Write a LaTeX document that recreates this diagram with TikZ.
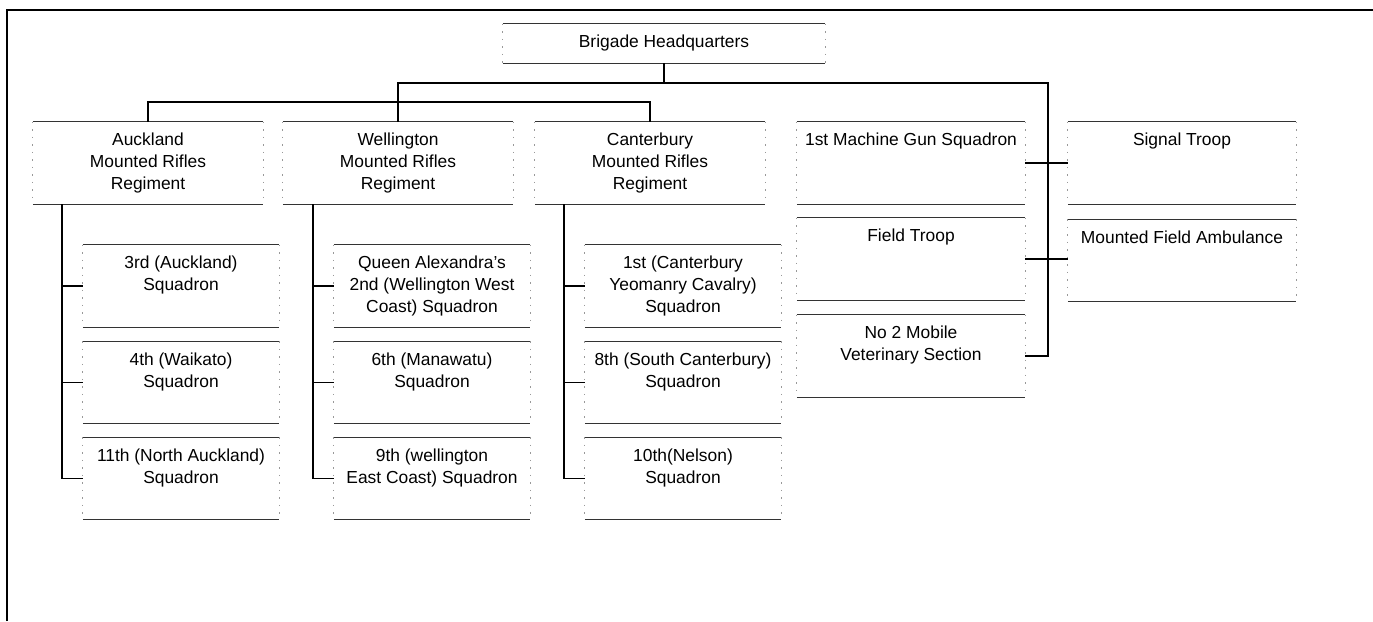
\documentclass[tikz,border=0pt]{standalone}
\usepackage{fontspec}
\setmainfont{Liberation Sans}
\usetikzlibrary{calc}

\begin{document}
\begin{tikzpicture}[
    x=1pt, y=-1pt,
    every node/.style={font=\fontsize{17.4}{22}\selectfont, inner sep=0pt},
    unit/.style={minimum width=230pt, minimum height=82pt, align=center},
    service/.style={minimum width=228pt, minimum height=82pt},
    squad/.style={minimum width=196pt, minimum height=82pt},
    toptext/.style={anchor=north, align=center, yshift=-11pt},
    rule/.style={line width=1.1pt, black!80},
    side/.style={line width=0.8pt, black!40, dash pattern=on 1.5pt off 6pt},
    link/.style={line width=1.7pt, black},
    frame/.style={line width=1.8pt, black}
]
\useasboundingbox (0,0) rectangle (1373,621);
\draw[frame] (7,621) -- (7,10) -- (1373,10);

%====================================================
% HEADQUARTERS AND REGIMENTS
%====================================================
\node[minimum width=322pt, minimum height=39pt] (hq) at (664,43.5) {Brigade Headquarters};
\node[unit] (akl) at (148,163) {Auckland\\Mounted Rifles\\Regiment};
\node[unit] (wlg) at (398,163) {Wellington\\Mounted Rifles\\Regiment};
\node[unit] (cby) at (650,163) {Canterbury\\Mounted Rifles\\Regiment};

%====================================================
% BRIGADE UNITS
%====================================================
\node[service, label={[toptext]north:1st Machine Gun Squadron}] (mg) at (911,163) {};
\node[service, label={[toptext]north:Field Troop}] (ft) at (911,259) {};
\node[service, label={[toptext]north:{No 2 Mobile\\Veterinary Section}}] (vet) at (911,356) {};
\node[service, label={[toptext]north:Signal Troop}] (sig) at (1182,163) {};
\node[service, label={[toptext]north:Mounted Field Ambulance}] (amb) at (1182,260.5) {};

%====================================================
% SQUADRONS
%====================================================
\begin{scope}[shift={(181,0)}]
\node[squad, label={[toptext]north:{3rd (Auckland)\\Squadron}}] (a1) at (0,286) {};
\node[squad, label={[toptext]north:{4th (Waikato)\\Squadron}}] (a2) at (0,382.5) {};
\node[squad, label={[toptext]north:{11th (North Auckland)\\Squadron}}] (a3) at (0,478.5) {};
\end{scope}

\begin{scope}[shift={(432,0)}]
\node[squad, label={[toptext]north:{Queen Alexandra's\\2nd (Wellington West\\Coast) Squadron}}] (w1) at (0,286) {};
\node[squad, label={[toptext]north:{6th (Manawatu)\\Squadron}}] (w2) at (0,382.5) {};
\node[squad, label={[toptext]north:{9th (wellington\\East Coast) Squadron}}] (w3) at (0,478.5) {};
\end{scope}

\begin{scope}[shift={(683,0)}]
\node[squad, label={[toptext]north:{1st (Canterbury\\Yeomanry Cavalry)\\Squadron}}] (c1) at (0,286) {};
\node[squad, label={[toptext]north:{8th (South Canterbury)\\Squadron}}] (c2) at (0,382.5) {};
\node[squad, label={[toptext]north:{10th(Nelson)\\Squadron}}] (c3) at (0,478.5) {};
\end{scope}

% box edges: solid top and bottom, faint sides
\foreach \n in {hq,akl,wlg,cby,mg,ft,vet,sig,amb,a1,a2,a3,w1,w2,w3,c1,c2,c3}
{
    \draw[rule] (\n.north west) -- (\n.north east);
    \draw[rule] (\n.south west) -- (\n.south east);
    \draw[side] (\n.north west) -- (\n.south west);
    \draw[side] (\n.north east) -- (\n.south east);
}

%====================================================
% CONNECTORS
%====================================================
\coordinate (bus) at (398,102);
\coordinate (trunk) at (1048,83);
\draw[link] (hq.south) -- (hq.south |- trunk);
\draw[link] (akl.north) |- (bus) -| (cby.north);
\draw[link] (wlg.north) -- (bus);
\draw[link] (bus) |- (trunk) |- (vet.east);
\draw[link] (mg.east) -- (sig.west);
\draw[link] (ft.east) -- (ft.east -| amb.west);
\foreach \r/\s in {akl/a, wlg/w, cby/c}
{
    \draw[link] ($(\r.south -| \s1.west)+(-21,0)$) |- (\s3.west);
    \draw[link] (\s1.west) -- ++(-21,0);
    \draw[link] (\s2.west) -- ++(-21,0);
}
\end{tikzpicture}
\end{document}
